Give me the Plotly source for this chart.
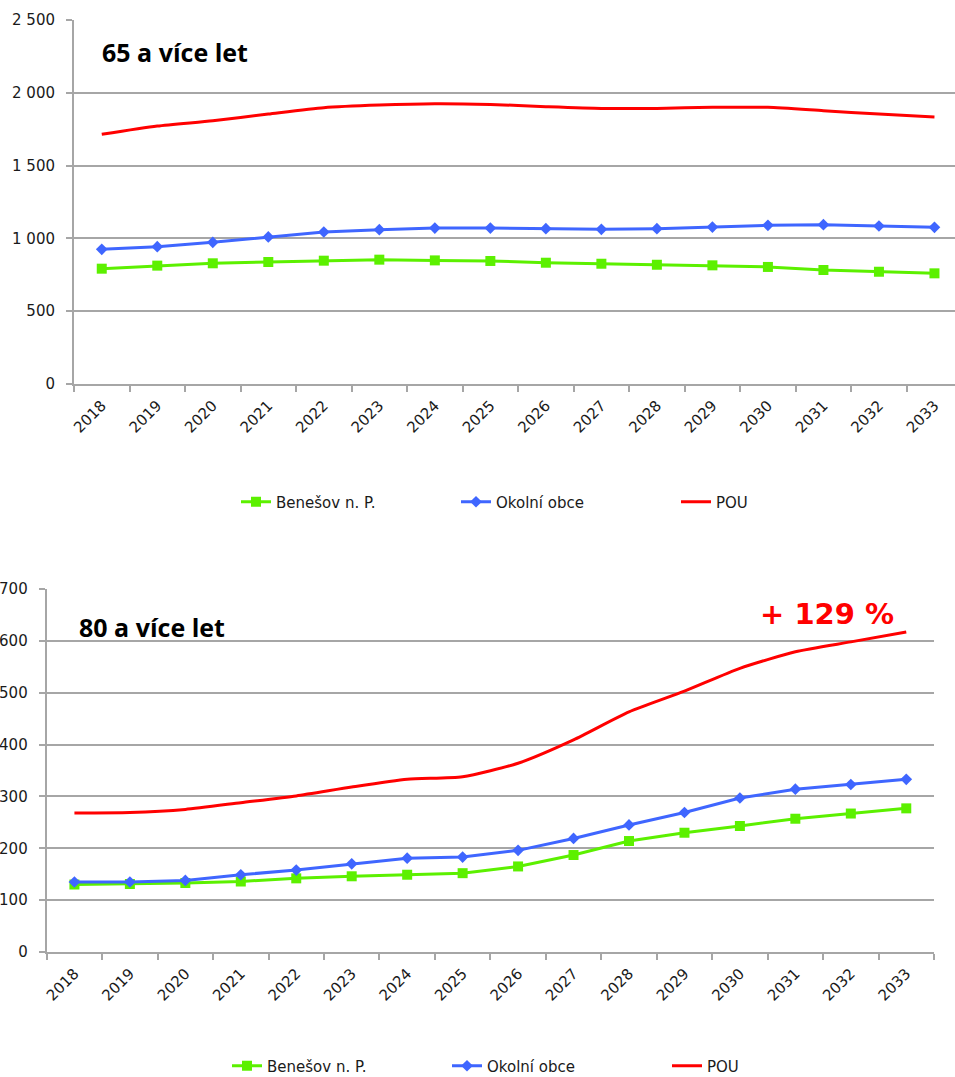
import plotly.graph_objects as go

W, H = 955, 1077

years = [str(y) for y in range(2018, 2034)]

# 65 a více let
benesov_65 = [792, 813, 829, 838, 847, 854, 849, 845, 833, 826, 819, 815, 804, 783, 771, 760]
okolni_65 = [925, 943, 973, 1010, 1044, 1060, 1071, 1071, 1067, 1062, 1067, 1078, 1090, 1094, 1085, 1076]
pou_65 = [1715, 1772, 1808, 1854, 1898, 1916, 1925, 1920, 1905, 1893, 1893, 1900, 1900, 1877, 1854, 1834]

# 80 a více let
benesov_80 = [130, 131, 133, 136, 142, 146, 149, 152, 165, 187, 214, 230, 243, 257, 267, 277]
okolni_80 = [135, 135, 138, 149, 158, 170, 181, 183, 196, 219, 245, 269, 297, 314, 323, 333]
pou_80 = [268, 269, 275, 288, 301, 318, 333, 338, 364, 409, 463, 503, 547, 579, 598, 617]

names = ["Benešov n. P.", "Okolní obce", "POU"]

GREEN = "#5cf000"
BLUE = "#3f66ff"
RED = "#ff0000"
GRID = "#a6a6a6"
TEXT = "#1a1a1a"


def px_x(v):
    return v / W


def px_y(v):
    return 1 - v / H


fig = go.Figure()


def add_series(xa, ya, legend, b, o, p):
    fig.add_trace(go.Scatter(
        x=years, y=b, name=names[0], mode="lines+markers",
        line=dict(color=GREEN, width=3),
        marker=dict(symbol="square", size=10, color=GREEN),
        xaxis=xa, yaxis=ya, legend=legend,
    ))
    fig.add_trace(go.Scatter(
        x=years, y=o, name=names[1], mode="lines+markers",
        line=dict(color=BLUE, width=3),
        marker=dict(symbol="diamond", size=9, color=BLUE),
        xaxis=xa, yaxis=ya, legend=legend,
    ))
    fig.add_trace(go.Scatter(
        x=years, y=p, name=names[2], mode="lines",
        line=dict(color=RED, width=3, shape="spline", smoothing=0.6),
        xaxis=xa, yaxis=ya, legend=legend,
    ))


add_series("x", "y", "legend", benesov_65, okolni_65, pou_65)
add_series("x2", "y2", "legend2", benesov_80, okolni_80, pou_80)

tick_font = dict(family="DejaVu Sans", size=15, color=TEXT)

xcommon = dict(
    type="category", showgrid=False, showline=True, linecolor=GRID, linewidth=2,
    ticks="outside", tickson="boundaries", ticklen=6, tickcolor=GRID, tickwidth=2,
    tickangle=-45, tickfont=tick_font, zeroline=False, automargin=False,
    ticklabelstandoff=5,
)
ycommon = dict(
    showgrid=True, gridcolor=GRID, gridwidth=2, showline=True, linecolor=GRID,
    linewidth=2, ticks="outside", ticklen=6, tickcolor=GRID, tickwidth=2,
    tickfont=tick_font, zeroline=False, ticklabelstandoff=8, automargin=False,
)

legend_common = dict(
    orientation="h", xanchor="left", yanchor="middle",
    font=dict(family="DejaVu Sans", size=15, color=TEXT),
    entrywidth=175, entrywidthmode="pixels", bgcolor="rgba(0,0,0,0)",
)

fig.update_layout(
    width=W, height=H,
    margin=dict(l=0, r=0, t=0, b=0, autoexpand=False),
    paper_bgcolor="white", plot_bgcolor="white",
    separators=", ",
    xaxis=dict(xcommon, domain=[px_x(74), 1.0], range=[-0.5, 15.37], anchor="y"),
    yaxis=dict(ycommon, domain=[px_y(384), px_y(20)], range=[0, 2500], dtick=500,
               tickformat=",d", anchor="x"),
    xaxis2=dict(xcommon, domain=[px_x(46.7), px_x(934)], range=[-0.5, 15.5], anchor="y2"),
    yaxis2=dict(ycommon, domain=[px_y(952), px_y(589)], range=[0, 700], dtick=100,
                anchor="x2"),
    legend=dict(legend_common, x=px_x(236), y=px_y(502)),
    legend2=dict(legend_common, x=px_x(227), y=px_y(1066)),
    showlegend=True,
)

title_font = dict(family="Open Sans", size=25, color="black", weight="bold")
fig.add_annotation(text="65 a více let", xref="paper", yref="paper",
                   x=px_x(100), y=px_y(52), xanchor="left", yanchor="middle",
                   showarrow=False, font=title_font)
fig.add_annotation(text="80 a více let", xref="paper", yref="paper",
                   x=px_x(77), y=px_y(627), xanchor="left", yanchor="middle",
                   showarrow=False, font=title_font)
fig.add_annotation(text="+ 129 %", xref="paper", yref="paper",
                   x=px_x(827), y=px_y(614), xanchor="center", yanchor="middle",
                   showarrow=False,
                   font=dict(family="DejaVu Sans", size=29, color=RED, weight="bold"))

# page body has a default margin; drop it so the figure sits at the top-left corner
fig.write_html(
    "out.html",
    config={"displayModeBar": False},
    post_script="document.body.style.margin='0';document.body.style.overflow='hidden';",
)
